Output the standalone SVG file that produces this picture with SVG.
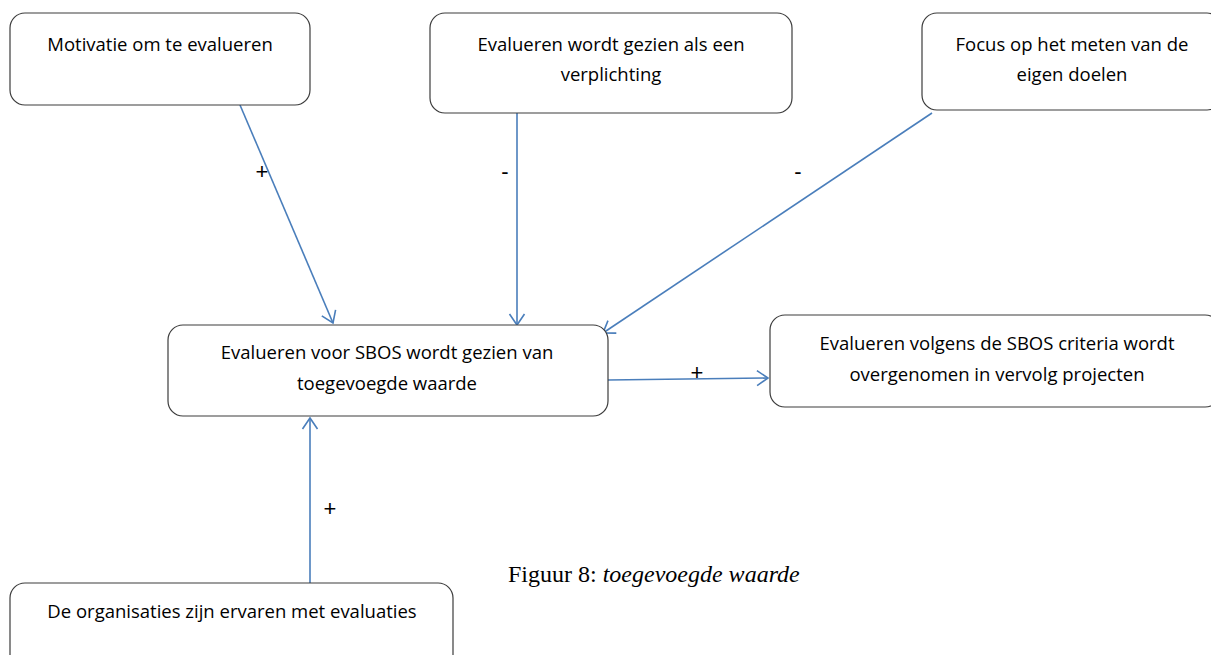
<svg xmlns="http://www.w3.org/2000/svg" width="1211" height="655" viewBox="0 0 1211 655">
  <style>
    .box { fill: #ffffff; stroke: #3c3c3c; stroke-width: 1.2; }
    .lbl { font-family: "Open Sans", "Liberation Sans", Arial, sans-serif; font-size: 18.5px; fill: #000; text-anchor: middle; }
    .sign { font-family: "Liberation Sans", Arial, sans-serif; font-size: 22px; fill: #000; text-anchor: middle; }
    .edge { stroke: #4a7ebb; stroke-width: 1.6; fill: none; marker-end: url(#arrow); }
    .caption { font-family: "Liberation Serif", "Times New Roman", serif; font-size: 24px; fill: #000; }
  </style>
  <defs>
    <marker id="arrow" markerUnits="userSpaceOnUse" markerWidth="20" markerHeight="20" viewBox="0 0 20 20" refX="18" refY="10" orient="auto">
      <path d="M7,2.5 L18,10 L7,17.5" fill="none" stroke="#4a7ebb" stroke-width="1.6"/>
    </marker>
  </defs>
  <rect width="1211" height="655" fill="#ffffff"/>

  <g id="connectors">
    <line class="edge" x1="240" y1="105" x2="333" y2="323"/>
    <line class="edge" x1="517" y1="113" x2="517" y2="325"/>
    <line class="edge" x1="932" y1="113" x2="603" y2="333"/>
    <line class="edge" x1="608" y1="380" x2="768" y2="378"/>
    <line class="edge" x1="310" y1="583" x2="310" y2="418"/>
    <text class="sign" x="262" y="179">+</text>
    <text class="sign" x="505" y="179">-</text>
    <text class="sign" x="798" y="179">-</text>
    <text class="sign" x="697" y="380">+</text>
    <text class="sign" x="330" y="516">+</text>
  </g>

  <g id="node-motivatie">
    <rect class="box" x="10" y="13" width="300" height="92" rx="15"/>
    <text class="lbl" x="160" y="51">Motivatie om te evalueren</text>
  </g>

  <g id="node-verplichting">
    <rect class="box" x="430" y="13" width="362" height="100" rx="15"/>
    <text class="lbl" x="611" y="51">Evalueren wordt gezien als een</text>
    <text class="lbl" x="611" y="81">verplichting</text>
  </g>

  <g id="node-focus">
    <rect class="box" x="922" y="13" width="300" height="97" rx="15"/>
    <text class="lbl" x="1072" y="51">Focus op het meten van de</text>
    <text class="lbl" x="1072" y="81">eigen doelen</text>
  </g>

  <g id="node-waarde">
    <rect class="box" x="168" y="325" width="440" height="91" rx="15"/>
    <text class="lbl" x="387" y="359">Evalueren voor SBOS wordt gezien van</text>
    <text class="lbl" x="387" y="390">toegevoegde waarde</text>
  </g>

  <g id="node-vervolg">
    <rect class="box" x="770" y="315" width="450" height="92" rx="15"/>
    <text class="lbl" x="997" y="350">Evalueren volgens de SBOS criteria wordt</text>
    <text class="lbl" x="997" y="381">overgenomen in vervolg projecten</text>
  </g>

  <g id="node-ervaren">
    <rect class="box" x="10" y="583" width="443" height="90" rx="15"/>
    <text class="lbl" x="232" y="618">De organisaties zijn ervaren met evaluaties</text>
  </g>

  <text class="caption" x="508" y="582">Figuur 8: <tspan font-style="italic">toegevoegde waarde</tspan></text>
</svg>
